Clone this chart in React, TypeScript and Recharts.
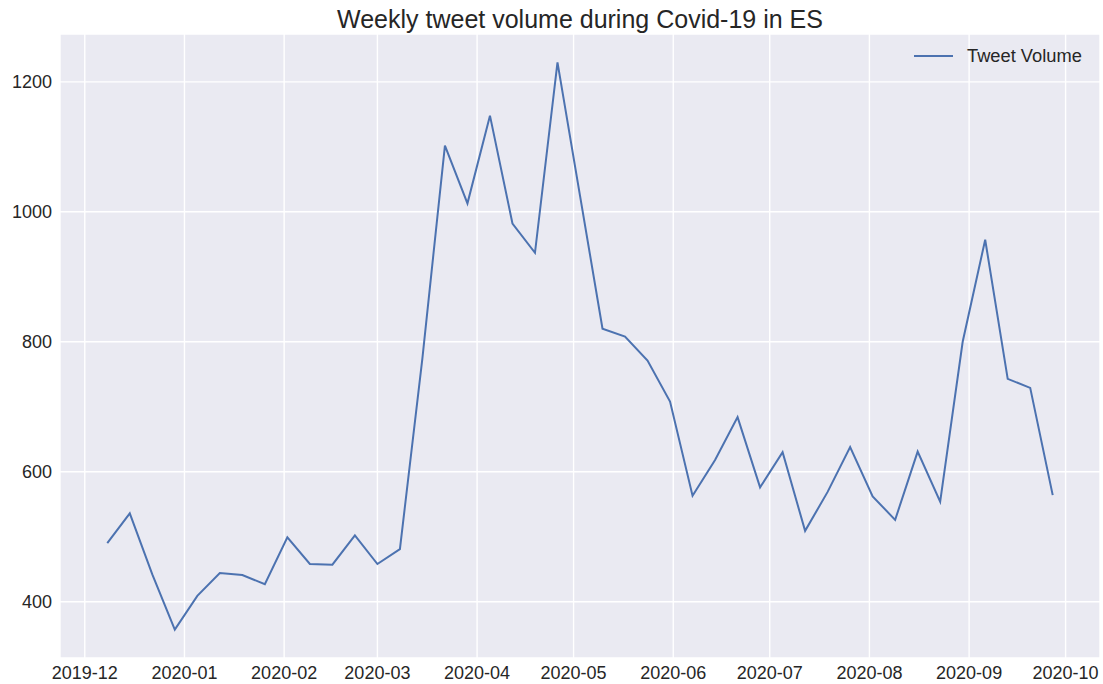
import { LineChart, Line, XAxis, YAxis, CartesianGrid, Legend } from "recharts";

const weeks = [
  "2019-12-08", "2019-12-15", "2019-12-22", "2019-12-29",
  "2020-01-05", "2020-01-12", "2020-01-19", "2020-01-26",
  "2020-02-02", "2020-02-09", "2020-02-16", "2020-02-23",
  "2020-03-01", "2020-03-08", "2020-03-15", "2020-03-22", "2020-03-29",
  "2020-04-05", "2020-04-12", "2020-04-19", "2020-04-26",
  "2020-05-03", "2020-05-10", "2020-05-17", "2020-05-24", "2020-05-31",
  "2020-06-07", "2020-06-14", "2020-06-21", "2020-06-28",
  "2020-07-05", "2020-07-12", "2020-07-19", "2020-07-26",
  "2020-08-02", "2020-08-09", "2020-08-16", "2020-08-23", "2020-08-30",
  "2020-09-06", "2020-09-13", "2020-09-20", "2020-09-27",
];

const tweetVolume = [
  490, 536, 442, 357,
  409, 444, 441, 427,
  499, 458, 457, 502,
  458, 481, 775, 1102, 1013,
  1148, 982, 937, 1230,
  1025, 820, 808, 771, 708,
  563, 618, 684, 576,
  630, 509, 569, 638,
  562, 526, 631, 554, 800,
  957, 743, 729, 564,
];

const monthTicks = [
  "2019-12-01", "2020-01-01", "2020-02-01", "2020-03-01", "2020-04-01",
  "2020-05-01", "2020-06-01", "2020-07-01", "2020-08-01", "2020-09-01",
  "2020-10-01",
];

const yTicks = [400, 600, 800, 1000, 1200];

const toMs = (d: string) => new Date(d + "T00:00:00Z").getTime();

const data = weeks.map((w, i) => ({ t: toMs(w), volume: tweetVolume[i] }));

// matplotlib-style 5% margins
const pad = (lo: number, hi: number) => (hi - lo) * 0.05;
const tMin = data[0].t;
const tMax = data[data.length - 1].t;
const vMin = Math.min(...tweetVolume);
const vMax = Math.max(...tweetVolume);

const FONT = '"Liberation Sans", Arial, sans-serif';
const TEXT = "#262626";
const BLUE = "#4C72B0";

const fmtMonth = (ms: number) => {
  const d = new Date(ms);
  return `${d.getUTCFullYear()}-${String(d.getUTCMonth() + 1).padStart(2, "0")}`;
};

function LegendBox() {
  return (
    <div style={{ display: "flex", alignItems: "center", fontFamily: FONT, fontSize: 18.3, color: TEXT }}>
      <svg width={40} height={4} style={{ marginRight: 13 }}>
        <line x1={0} y1={2} x2={39} y2={2} stroke={BLUE} strokeWidth={2} />
      </svg>
      <span>Tweet Volume</span>
    </div>
  );
}

export default function App() {
  return (
    <div style={{ position: "absolute", left: 0, top: 0, width: 1103, height: 684, background: "#fff" }}>
      <div
        style={{
          position: "absolute",
          left: 60,
          width: 1040,
          top: 5,
          textAlign: "center",
          fontFamily: FONT,
          fontSize: 25,
          color: TEXT,
          lineHeight: "28px",
        }}
      >
        Weekly tweet volume during Covid-19 in ES
      </div>
      <LineChart width={1103} height={684} data={data} margin={{ top: 34, right: 3, left: 0, bottom: 0 }}>
        <CartesianGrid fill="#EAEAF2" stroke="#ffffff" strokeWidth={1.4} />
        <XAxis
          dataKey="t"
          type="number"
          scale="time"
          domain={[tMin - pad(tMin, tMax), tMax + pad(tMin, tMax)]}
          ticks={monthTicks.map(toMs)}
          tickFormatter={fmtMonth}
          allowDataOverflow
          axisLine={false}
          tickLine={false}
          height={26}
          tick={{ fill: TEXT, fontSize: 18, fontFamily: FONT }}
          interval={0}
        />
        <YAxis
          type="number"
          domain={[vMin - pad(vMin, vMax), vMax + pad(vMin, vMax)]}
          ticks={yTicks}
          allowDataOverflow
          axisLine={false}
          tickLine={false}
          width={60}
          tick={{ fill: TEXT, fontSize: 18, fontFamily: FONT }}
        />
        <Legend
          layout="horizontal"
          verticalAlign="middle"
          align="center"
          content={() => <LegendBox />}
          wrapperStyle={{ position: "absolute", top: 45, left: 914, width: 185, height: 24 }}
        />
        <Line
          type="linear"
          dataKey="volume"
          name="Tweet Volume"
          stroke={BLUE}
          strokeWidth={2}
          dot={false}
          activeDot={false}
          isAnimationActive={false}
        />
      </LineChart>
    </div>
  );
}
